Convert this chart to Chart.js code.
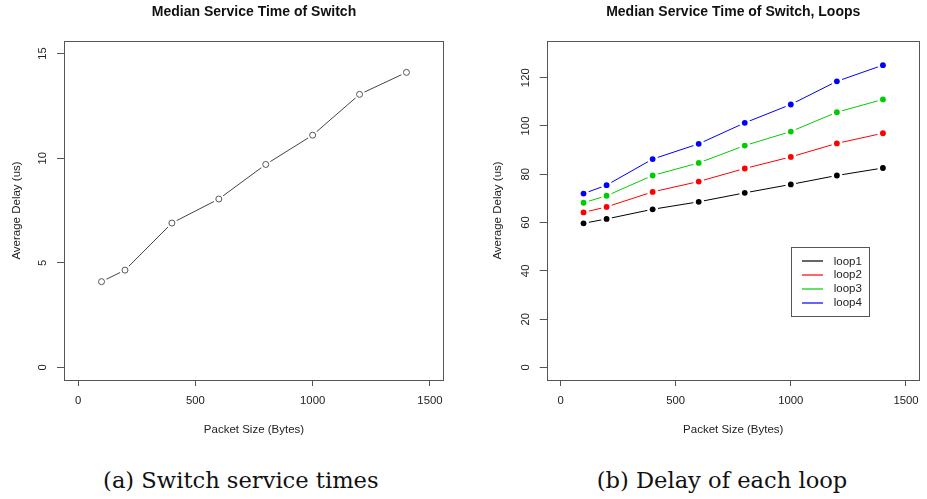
<!DOCTYPE html>
<html>
<head>
<meta charset="utf-8">
<script src="https://cdn.jsdelivr.net/npm/chart.js@4/dist/chart.umd.min.js"></script>
<style>
  html, body { margin: 0; padding: 0; background: #fff; }
  body { width: 927px; height: 499px; position: relative; overflow: hidden; }
  .panel { position: absolute; top: 0; height: 450px; }
  #p1 { left: 0; width: 463px; }
  #p2 { left: 463px; width: 464px; }
  .caption {
    position: absolute; top: 469px;
    font-family: "DejaVu Serif", serif; font-size: 22.6px; line-height: 1;
    color: #111; white-space: nowrap; transform: translateX(-50%);
  }
</style>
</head>
<body>
<div class="panel" id="p1"><canvas id="c1" width="463" height="450"></canvas></div>
<div class="panel" id="p2"><canvas id="c2" width="464" height="450"></canvas></div>
<div class="caption" style="left:240.8px">(a) Switch service times</div>
<div class="caption" style="left:722px">(b) Delay of each loop</div>

<script>
// Packet sizes tested (bytes)
const packetSizes = [100, 200, 400, 600, 800, 1000, 1200, 1400];

// Median service time of the switch (us)
const switchDelay = [4.1, 4.65, 6.9, 8.05, 9.7, 11.1, 13.05, 14.1];

// Average delay per loop (us)
const loop1 = [59.7, 61.5, 65.5, 68.6, 72.3, 75.8, 79.5, 82.6];
const loop2 = [64.2, 66.5, 72.7, 77.0, 82.4, 87.2, 92.8, 97.0];
const loop3 = [68.2, 71.1, 79.5, 84.7, 91.9, 97.7, 105.7, 111.0];
const loop4 = [72.0, 75.5, 86.3, 92.6, 101.3, 108.9, 118.5, 125.2];

const loopNames = ['loop1', 'loop2', 'loop3', 'loop4'];
const loopColors = ['#000000', '#ff0000', '#00cd00', '#0000ff'];

// Tick labels
const xTicks = [0, 500, 1000, 1500];
const yTicksSwitch = [0, 5, 10, 15];
const yTicksLoops = [0, 20, 40, 60, 80, 100, 120];

const FONT = '"Liberation Sans", Arial, Helvetica, sans-serif';
Chart.defaults.font.family = FONT;
Chart.defaults.color = '#222';

const toPoints = (xs, ys) => xs.map((x, i) => ({ x: x, y: ys[i] }));

// Leaves a small gap around every point so lines do not touch the markers
const gapLines = {
  id: 'gapLines',
  beforeDatasetDraw(chart, args) {
    const ds = chart.data.datasets[args.index];
    if (!ds.gapRadius) return;
    const ctx = chart.ctx;
    const r = ds.gapRadius;
    ctx.save();
    ctx.beginPath();
    ctx.rect(0, 0, chart.width, chart.height);
    args.meta.data.forEach(el => {
      ctx.moveTo(el.x + r, el.y);
      ctx.arc(el.x, el.y, r, 0, Math.PI * 2);
    });
    ctx.clip('evenodd');
  },
  afterDatasetDraw(chart, args) {
    if (chart.data.datasets[args.index].gapRadius) chart.ctx.restore();
  }
};

// Frame around the plotting region
const plotFrame = {
  id: 'plotFrame',
  afterDraw(chart) {
    const a = chart.chartArea, ctx = chart.ctx;
    ctx.save();
    ctx.strokeStyle = '#555';
    ctx.lineWidth = 1;
    ctx.strokeRect(Math.round(a.left) + 0.5, Math.round(a.top) + 0.5,
                   Math.round(a.right) - Math.round(a.left) - 1,
                   Math.round(a.bottom) - Math.round(a.top));
    ctx.restore();
  }
};

// Vertical tick labels on the y axis, parallel to the axis
const verticalYLabels = {
  id: 'verticalYLabels',
  afterDraw(chart) {
    const y = chart.scales.y, ctx = chart.ctx;
    const x = chart.chartArea.left - 21;
    ctx.save();
    ctx.font = '11.3px ' + FONT;
    ctx.fillStyle = '#222';
    ctx.textAlign = 'center';
    ctx.textBaseline = 'middle';
    y.ticks.forEach(t => {
      ctx.save();
      ctx.translate(x, y.getPixelForValue(t.value));
      ctx.rotate(-Math.PI / 2);
      ctx.fillText(String(t.value), 0, 0);
      ctx.restore();
    });
    ctx.restore();
  }
};

// Boxed legend whose top-left corner sits at a data position
function boxLegend(anchor, labels, colors) {
  return {
    id: 'boxLegend',
    afterDraw(chart) {
      const ctx = chart.ctx;
      const x0 = Math.round(chart.scales.x.getPixelForValue(anchor.x));
      const y0 = Math.round(chart.scales.y.getPixelForValue(anchor.y));
      const rowH = 13.85, w = 78, h = 69;
      ctx.save();
      ctx.fillStyle = '#fff';
      ctx.fillRect(x0, y0, w, h);
      ctx.strokeStyle = '#555';
      ctx.lineWidth = 1;
      ctx.strokeRect(x0 + 0.5, y0 + 0.5, w, h);
      ctx.font = '11.5px ' + FONT;
      ctx.textBaseline = 'middle';
      ctx.textAlign = 'left';
      labels.forEach((label, i) => {
        const yy = y0 + 14.4 + i * rowH;
        ctx.strokeStyle = colors[i];
        ctx.lineWidth = 1.2;
        ctx.beginPath();
        ctx.moveTo(x0 + 11, Math.round(yy));
        ctx.lineTo(x0 + 32, Math.round(yy));
        ctx.stroke();
        ctx.fillStyle = '#222';
        ctx.fillText(label, x0 + 42.7, yy);
      });
      ctx.restore();
    }
  };
}

function makeChart(canvasId, cfg) {
  const tickFont = { size: 11.3 };
  const plugins = [gapLines, plotFrame, verticalYLabels];
  if (cfg.legend) plugins.push(cfg.legend);
  return new Chart(document.getElementById(canvasId), {
    type: 'line',
    data: { datasets: cfg.datasets },
    options: {
      responsive: false,
      animation: false,
      events: [],
      layout: { padding: { left: 0, right: cfg.padRight, top: 0, bottom: 0 } },
      plugins: {
        legend: { display: false },
        tooltip: { enabled: false },
        title: {
          display: true, text: cfg.title, fullSize: false, color: '#111',
          font: { size: 14, weight: 'bold' },
          padding: { top: 4.1, bottom: 20.1 }
        }
      },
      scales: {
        x: {
          type: 'linear', min: -60, max: 1560,
          afterBuildTicks: s => { s.ticks = xTicks.map(v => ({ value: v })); },
          afterFit: s => { s.height = 70; },
          ticks: { font: tickFont, color: '#222', padding: 8.2, maxRotation: 0, callback: v => String(v) },
          grid: { drawOnChartArea: false, drawTicks: true, tickLength: 6, tickColor: '#555' },
          border: { display: false },
          title: {
            display: true, text: 'Packet Size (Bytes)', color: '#222',
            font: { size: 11.5 }, padding: { top: 0, bottom: 13.1 }
          }
        },
        y: {
          type: 'linear', min: cfg.yMin, max: cfg.yMax,
          afterBuildTicks: s => { s.ticks = cfg.yTicks.map(v => ({ value: v })); },
          afterFit: s => { s.width = cfg.yWidth; },
          ticks: { display: false },
          grid: { drawOnChartArea: false, drawTicks: true, tickLength: 7, tickColor: '#555' },
          border: { display: false },
          title: {
            display: true, text: 'Average Delay (us)', color: '#222',
            font: { size: 11.5 }, padding: { top: cfg.yTitlePad, bottom: 0 }
          }
        }
      }
    },
    plugins: plugins
  });
}

// (a) switch service time: open circles joined by a line
makeChart('c1', {
  title: 'Median Service Time of Switch',
  padRight: 19,
  yMin: -0.6, yMax: 15.6, yTicks: yTicksSwitch, yWidth: 64, yTitlePad: 10.1,
  datasets: [
    { data: toPoints(packetSizes, switchDelay), borderColor: '#444', borderWidth: 1,
      pointRadius: 0, tension: 0, fill: false, gapRadius: 5.5 },
    { data: toPoints(packetSizes, switchDelay), showLine: false, pointRadius: 3,
      pointBorderWidth: 1, pointBorderColor: '#555', pointBackgroundColor: '#fff' }
  ]
});

// (b) delay of each loop: solid markers joined by coloured lines
const loopSeries = [loop1, loop2, loop3, loop4];
const loopDatasets = [];
loopSeries.forEach((vals, i) => {
  loopDatasets.push({ label: loopNames[i], data: toPoints(packetSizes, vals),
    borderColor: loopColors[i], borderWidth: 1, pointRadius: 0, tension: 0,
    fill: false, gapRadius: 5.5 });
});
loopSeries.forEach((vals, i) => {
  loopDatasets.push({ data: toPoints(packetSizes, vals), showLine: false,
    pointRadius: 2.9, pointBorderWidth: 0, pointBackgroundColor: loopColors[i] });
});

makeChart('c2', {
  title: 'Median Service Time of Switch, Loops',
  padRight: 1.5,
  yMin: -5.2, yMax: 135.2, yTicks: yTicksLoops, yWidth: 83.7, yTitlePad: 28.1,
  legend: boxLegend({ x: 1000, y: 50 }, loopNames, loopColors),
  datasets: loopDatasets
});
</script>
</body>
</html>
